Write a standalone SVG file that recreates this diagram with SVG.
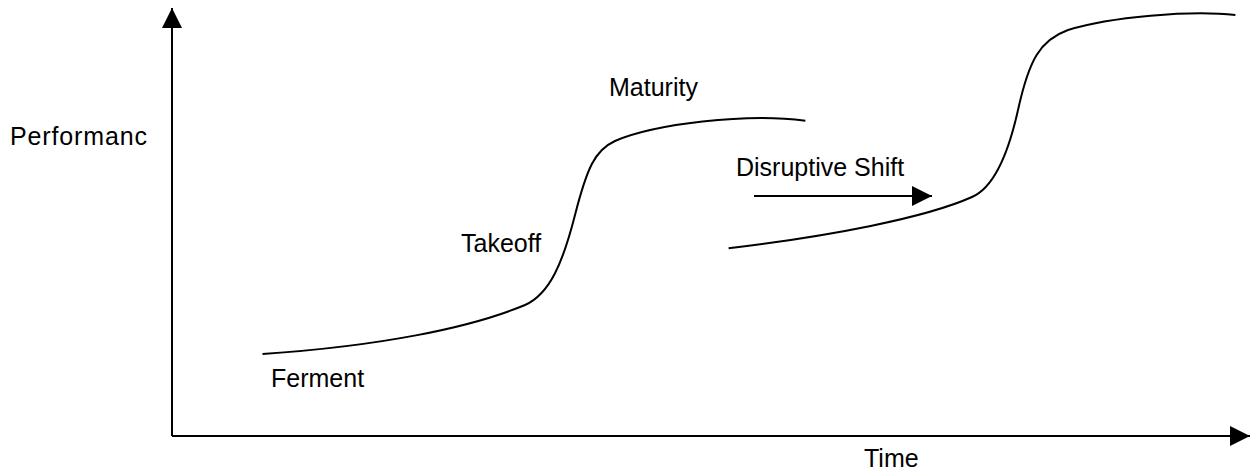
<svg xmlns="http://www.w3.org/2000/svg" width="1257" height="472" viewBox="0 0 1257 472">
  <style>
    .label { font-family: "Liberation Sans", Arial, sans-serif; font-size: 25px; fill: #000; }
    .axis, .curve, .shift { fill: none; stroke: #000; stroke-width: 2; }
  </style>
  <defs>
    <marker id="head" markerUnits="userSpaceOnUse" markerWidth="20" markerHeight="20" viewBox="0 0 20 20" refX="20" refY="10" orient="auto">
      <path d="M0,0 L20,10 L0,20 z" fill="#000"/>
    </marker>
  </defs>
  <rect width="1257" height="472" fill="#fff"/>

  <!-- axes -->
  <g id="axes">
    <line class="axis" x1="172" y1="436" x2="172" y2="8" marker-end="url(#head)"/>
    <line class="axis" x1="172" y1="436" x2="1250" y2="436" marker-end="url(#head)"/>
  </g>

  <!-- S-curves -->
  <g id="curves">
    <path id="curve-first" class="curve" d="M262.5,354 C380,346 470,328 525,305 C550,294 563,262 575,215 C587,168 595,150 615,141 C655,124 745,113 805.4,120.7"/>
    <path id="curve-second" class="curve" d="M728.6,248.3 C830,236 925,218 972,197 C993,188 1008,155 1018,110 C1029,60 1040,40 1068,30 C1110,17 1190,10 1235.4,15"/>
  </g>

  <!-- shift arrow -->
  <g id="connectors">
    <line class="shift" x1="754" y1="196" x2="932" y2="196" marker-end="url(#head)"/>
  </g>

  <!-- labels -->
  <g id="label-performance"><text class="label" x="10" y="145" textLength="137">Performanc</text></g>
  <g id="label-time"><text class="label" x="864" y="467">Time</text></g>
  <g id="label-ferment"><text class="label" x="271" y="387">Ferment</text></g>
  <g id="label-takeoff"><text class="label" x="461" y="252">Takeoff</text></g>
  <g id="label-maturity"><text class="label" x="609" y="96">Maturity</text></g>
  <g id="label-shift"><text class="label" x="736" y="176">Disruptive Shift</text></g>
</svg>
